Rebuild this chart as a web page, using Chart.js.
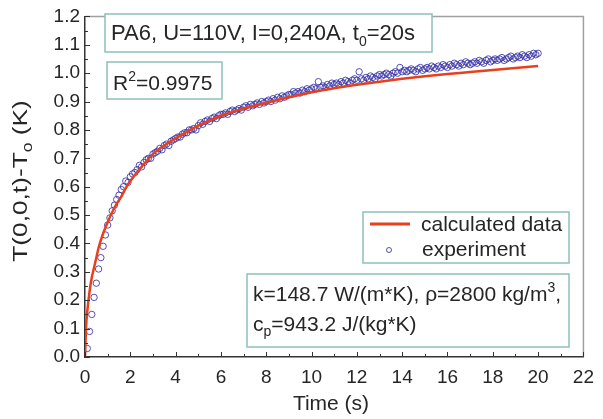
<!DOCTYPE html>
<html>
<head>
<meta charset="utf-8">
<script src="https://cdn.jsdelivr.net/npm/chart.js@4.4.0/dist/chart.umd.min.js"></script>
<style>
  html, body { margin: 0; padding: 0; background: #fff; }
  #wrap { width: 603px; height: 419px; }
</style>
</head>
<body>
<div id="wrap"><canvas id="tempChart" width="603" height="419"></canvas></div>
<script>
// calculated curve
const calcTime = [0, 0.05, 0.1, 0.2, 0.3, 0.4, 0.5, 0.6, 0.8, 1.0, 1.2, 1.4, 1.6, 1.8, 2.0, 2.5, 3.0, 3.5, 4, 5, 6, 7, 8, 9, 10, 11, 12, 13, 14, 15, 16, 17, 18, 19, 20];
const calcTemp = [0, 0.11, 0.16, 0.23, 0.28, 0.315, 0.35, 0.385, 0.435, 0.475, 0.51, 0.54, 0.565, 0.595, 0.62, 0.67, 0.715, 0.745, 0.77, 0.815, 0.85, 0.875, 0.895, 0.915, 0.933, 0.947, 0.959, 0.97, 0.98, 0.989, 0.997, 1.004, 1.011, 1.018, 1.025];

// experiment points, one every 0.1 s
const expTime = [
  0.1, 0.2, 0.3, 0.4, 0.5, 0.6, 0.7, 0.8, 0.9, 1.0,
  1.1, 1.2, 1.3, 1.4, 1.5, 1.6, 1.7, 1.8, 1.9, 2.0,
  2.1, 2.2, 2.3, 2.4, 2.5, 2.6, 2.7, 2.8, 2.9, 3.0,
  3.1, 3.2, 3.3, 3.4, 3.5, 3.6, 3.7, 3.8, 3.9, 4.0,
  4.1, 4.2, 4.3, 4.4, 4.5, 4.6, 4.7, 4.8, 4.9, 5.0,
  5.1, 5.2, 5.3, 5.4, 5.5, 5.6, 5.7, 5.8, 5.9, 6.0,
  6.1, 6.2, 6.3, 6.4, 6.5, 6.6, 6.7, 6.8, 6.9, 7.0,
  7.1, 7.2, 7.3, 7.4, 7.5, 7.6, 7.7, 7.8, 7.9, 8.0,
  8.1, 8.2, 8.3, 8.4, 8.5, 8.6, 8.7, 8.8, 8.9, 9.0,
  9.1, 9.2, 9.3, 9.4, 9.5, 9.6, 9.7, 9.8, 9.9, 10.0,
  10.1, 10.2, 10.3, 10.4, 10.5, 10.6, 10.7, 10.8, 10.9, 11.0,
  11.1, 11.2, 11.3, 11.4, 11.5, 11.6, 11.7, 11.8, 11.9, 12.0,
  12.1, 12.2, 12.3, 12.4, 12.5, 12.6, 12.7, 12.8, 12.9, 13.0,
  13.1, 13.2, 13.3, 13.4, 13.5, 13.6, 13.7, 13.8, 13.9, 14.0,
  14.1, 14.2, 14.3, 14.4, 14.5, 14.6, 14.7, 14.8, 14.9, 15.0,
  15.1, 15.2, 15.3, 15.4, 15.5, 15.6, 15.7, 15.8, 15.9, 16.0,
  16.1, 16.2, 16.3, 16.4, 16.5, 16.6, 16.7, 16.8, 16.9, 17.0,
  17.1, 17.2, 17.3, 17.4, 17.5, 17.6, 17.7, 17.8, 17.9, 18.0,
  18.1, 18.2, 18.3, 18.4, 18.5, 18.6, 18.7, 18.8, 18.9, 19.0,
  19.1, 19.2, 19.3, 19.4, 19.5, 19.6, 19.7, 19.8, 19.9, 20.0
];
const expTemp = [
  0.03, 0.09, 0.15, 0.21, 0.26, 0.31, 0.35, 0.39, 0.43, 0.465,
  0.49, 0.515, 0.535, 0.555, 0.57, 0.59, 0.60, 0.62, 0.615, 0.635,
  0.645, 0.65, 0.66, 0.675, 0.67, 0.685, 0.695, 0.70, 0.70, 0.715,
  0.72, 0.725, 0.735, 0.73, 0.745, 0.75, 0.745, 0.76, 0.765, 0.77,
  0.775, 0.775, 0.785, 0.79, 0.79, 0.80, 0.80, 0.805, 0.80, 0.815,
  0.825, 0.82, 0.83, 0.835, 0.83, 0.84, 0.845, 0.84, 0.85, 0.855,
  0.855, 0.86, 0.855, 0.865, 0.87, 0.865, 0.87, 0.875, 0.87, 0.88,
  0.885, 0.88, 0.89, 0.885, 0.89, 0.895, 0.89, 0.90, 0.895, 0.90,
  0.905, 0.90, 0.91, 0.905, 0.915, 0.91, 0.92, 0.915, 0.92, 0.925,
  0.925, 0.935, 0.93, 0.935, 0.93, 0.94, 0.935, 0.945, 0.94, 0.945,
  0.95, 0.945, 0.97, 0.95, 0.955, 0.95, 0.96, 0.955, 0.965, 0.96,
  0.965, 0.96, 0.97, 0.965, 0.975, 0.97, 0.965, 0.975, 0.98, 0.975,
  1.005, 0.98, 0.975, 0.985, 0.98, 0.99, 0.985, 0.98, 0.99, 0.995,
  0.99, 0.995, 1.0, 0.995, 0.99, 1.0, 1.005, 1.0, 1.02, 1.005,
  1.01, 1.005, 1.01, 1.015, 1.01, 1.005, 1.015, 1.02, 1.01, 1.015,
  1.02, 1.015, 1.025, 1.02, 1.015, 1.025, 1.02, 1.03, 1.025, 1.02,
  1.03, 1.025, 1.035, 1.03, 1.025, 1.035, 1.03, 1.04, 1.035, 1.03,
  1.035, 1.04, 1.035, 1.045, 1.04, 1.035, 1.045, 1.05, 1.04, 1.045,
  1.05, 1.045, 1.05, 1.055, 1.045, 1.05, 1.055, 1.06, 1.05, 1.055,
  1.06, 1.055, 1.065, 1.06, 1.055, 1.065, 1.06, 1.07, 1.065, 1.07
];

const xTicks = [0, 2, 4, 6, 8, 10, 12, 14, 16, 18, 20, 22];
const yTicks = [0, 0.1, 0.2, 0.3, 0.4, 0.5, 0.6, 0.7, 0.8, 0.9, 1.0, 1.1, 1.2];

const FONT = "'Liberation Sans', Arial, sans-serif";
const TXT = 21;   // annotation / title size
const TEXT = '#262626';
const BOX = '#8fc0b9';
const RED = '#e8401c';
const BLUE = 'rgba(55,50,165,0.85)';

// draws text made of [string, 'n' | 'sup' | 'sub'] parts, returns width
function drawRich(ctx, parts, x, y, size, measureOnly) {
  let cx = x;
  parts.forEach(([str, kind]) => {
    const small = kind !== 'n';
    ctx.font = (small ? Math.round(size * 0.65) : size) + 'px ' + FONT;
    const dy = kind === 'sup' ? -size * 0.42 : kind === 'sub' ? size * 0.25 : 0;
    if (!measureOnly) ctx.fillText(str, cx, y + dy);
    cx += ctx.measureText(str).width;
  });
  return cx - x;
}

function box(ctx, x, y, w, h) {
  ctx.fillStyle = '#fff';
  ctx.fillRect(x, y, w, h);
  ctx.strokeStyle = BOX;
  ctx.lineWidth = 1.5;
  ctx.strokeRect(x, y, w, h);
}

const extras = {
  id: 'extras',
  afterDraw(chart) {
    const ctx = chart.ctx;
    const { left, right, top, bottom } = chart.chartArea;
    const sx = chart.scales.x, sy = chart.scales.y;
    ctx.save();

    // top / right frame
    ctx.strokeStyle = '#a0a0a0';
    ctx.lineWidth = 1.5;
    ctx.beginPath();
    ctx.moveTo(left, top); ctx.lineTo(right, top); ctx.lineTo(right, bottom);
    ctx.stroke();

    // inward ticks
    ctx.strokeStyle = '#333';
    ctx.lineWidth = 1;
    ctx.beginPath();
    for (let v = 0; v <= 22; v += 1) {
      const px = Math.round(sx.getPixelForValue(v)) + 0.5;
      ctx.moveTo(px, bottom);
      ctx.lineTo(px, bottom - (v % 2 === 0 ? 5 : 3));
    }
    for (let i = 0; i <= 24; i++) {
      const py = Math.round(sy.getPixelForValue(i * 0.05)) + 0.5;
      ctx.moveTo(left, py);
      ctx.lineTo(left + (i % 2 === 0 ? 5 : 3), py);
    }
    ctx.stroke();

    ctx.fillStyle = TEXT;
    ctx.textBaseline = 'alphabetic';
    ctx.textAlign = 'left';

    // x title
    ctx.font = TXT + 'px ' + FONT;
    ctx.textAlign = 'center';
    ctx.fillText('Time (s)', 331, 410);
    ctx.textAlign = 'left';

    // y title (a little stretched along its baseline, like the original)
    ctx.save();
    ctx.translate(27, 181);
    ctx.rotate(-Math.PI / 2);
    ctx.scale(1.25, 1);
    const yTitle = [['T(0,0,t)-T', 'n'], ['o', 'sub'], [' (K)', 'n']];
    const tw = drawRich(ctx, yTitle, 0, 0, TXT, true);
    ctx.fillStyle = TEXT;
    drawRich(ctx, yTitle, -tw / 2, 0, TXT);
    ctx.restore();

    // info boxes
    box(ctx, 105, 14, 327, 38);
    ctx.fillStyle = TEXT;
    drawRich(ctx, [['PA6, U=110V, I=0,240A, t', 'n'], ['0', 'sub'], ['=20s', 'n']], 111, 40, 22);

    box(ctx, 107, 62, 115, 37);
    ctx.fillStyle = TEXT;
    drawRich(ctx, [['R', 'n'], ['2', 'sup'], ['=0.9975', 'n']], 113, 90, TXT);

    box(ctx, 247, 274, 322, 73);
    ctx.fillStyle = TEXT;
    drawRich(ctx, [['k=148.7 W/(m*K), \u03c1=2800 kg/m', 'n'], ['3', 'sup'], [',', 'n']], 253, 301, TXT);
    drawRich(ctx, [['c', 'n'], ['p', 'sub'], ['=943.2 J/(kg*K)', 'n']], 253, 331, TXT);

    // legend
    const ds = chart.data.datasets;
    box(ctx, 363, 212, 206, 51);
    ctx.strokeStyle = ds[0].borderColor;
    ctx.lineWidth = 3;
    ctx.beginPath();
    ctx.moveTo(370, 224); ctx.lineTo(410, 224);
    ctx.stroke();
    ctx.strokeStyle = ds[1].borderColor;
    ctx.lineWidth = 1;
    ctx.beginPath();
    ctx.arc(389, 250, 2.5, 0, Math.PI * 2);
    ctx.stroke();
    ctx.fillStyle = TEXT;
    ctx.font = TXT + 'px ' + FONT;
    ctx.textBaseline = 'middle';
    ctx.fillText(ds[0].label, 421, 225);
    ctx.fillText(ds[1].label, 422, 250);

    ctx.restore();
  }
};

new Chart(document.getElementById('tempChart'), {
  type: 'scatter',
  data: {
    datasets: [
      {
        label: 'calculated data',
        data: calcTime.map((t, i) => ({ x: t, y: calcTemp[i] })),
        showLine: true,
        borderColor: RED,
        borderWidth: 2.5,
        pointRadius: 0,
        cubicInterpolationMode: 'monotone',
        fill: false,
      },
      {
        label: 'experiment',
        data: expTime.map((t, i) => ({ x: t, y: expTemp[i] })),
        showLine: false,
        borderColor: BLUE,
        backgroundColor: 'rgba(0,0,0,0)',
        borderWidth: 1,
        pointRadius: 3.2,
        pointStyle: 'circle',
      },
    ],
  },
  options: {
    responsive: false,
    animation: false,
    devicePixelRatio: 1,
    layout: { padding: { top: 13, right: 14, left: 0, bottom: 0 } },
    plugins: { legend: { display: false }, tooltip: { enabled: false } },
    scales: {
      x: {
        type: 'linear',
        min: 0,
        max: 22,
        afterBuildTicks: s => { s.ticks = xTicks.map(v => ({ value: v })); },
        afterFit: s => { s.height = 62; },
        grid: { display: false, drawTicks: false },
        border: { display: true, color: '#333', width: 1.5 },
        ticks: { color: TEXT, font: { family: FONT, size: 19 }, padding: 9, maxRotation: 0 },
      },
      y: {
        type: 'linear',
        min: 0,
        max: 1.2,
        afterBuildTicks: s => { s.ticks = yTicks.map(v => ({ value: v })); },
        afterFit: s => { s.width = 85; },
        grid: { display: false, drawTicks: false },
        border: { display: true, color: '#333', width: 1.5 },
        ticks: { color: TEXT, font: { family: FONT, size: 19 }, padding: 5, callback: v => v.toFixed(1) },
      },
    },
  },
  plugins: [extras],
});
</script>
</body>
</html>
